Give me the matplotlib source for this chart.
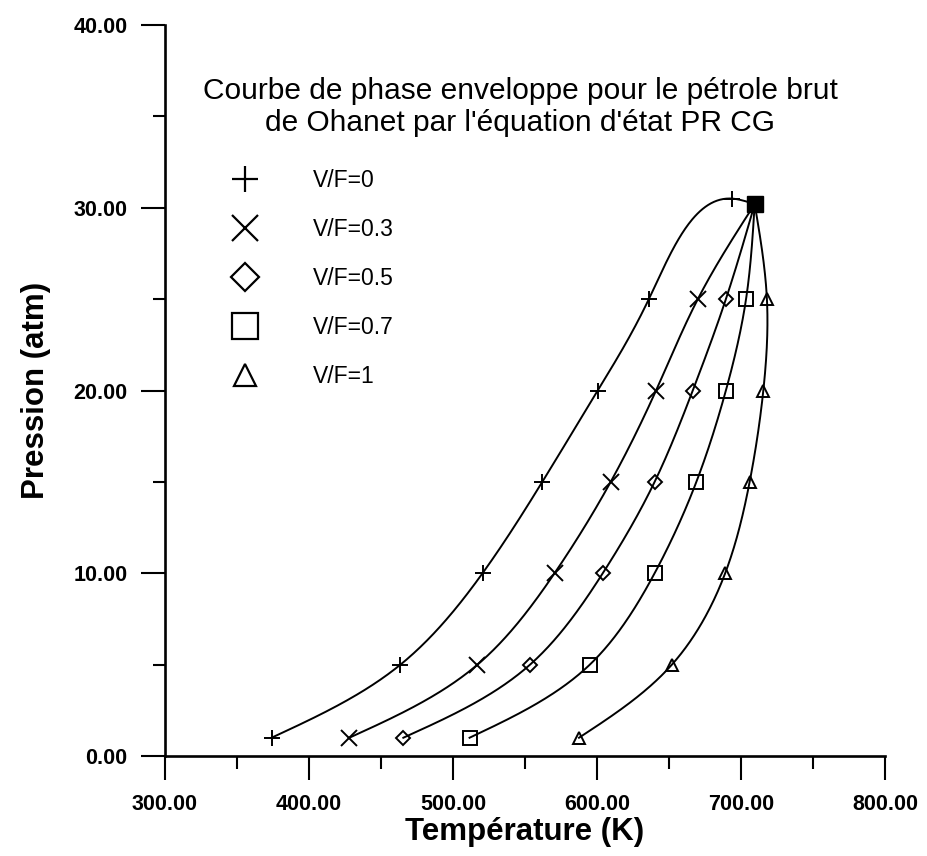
import numpy as np
import matplotlib
matplotlib.use("Agg")
import matplotlib.pyplot as plt
from matplotlib.lines import Line2D
from matplotlib.ticker import MultipleLocator, FormatStrFormatter

plt.rcParams['font.family'] = ['Liberation Sans', 'DejaVu Sans']

# pressures (atm) shared by every curve, critical point last
pressures = [1, 5, 10, 15, 20, 25]
crit_T = 709.5
crit_P = 30.2

# temperatures (K)
T_vf0 = [374, 463.5, 520.5, 562, 600.5, 636, 694]
P_vf0 = pressures + [30.5]
T_vf03 = [428, 517, 570.5, 609.5, 641, 670]
T_vf05 = [465.5, 553.5, 604, 640, 666.5, 689.5]
T_vf07 = [511.5, 595, 640, 669, 689.5, 703.5]
T_vf1 = [587.5, 652, 689, 706, 715.5, 718]

labels = ['V/F=0', 'V/F=0.3', 'V/F=0.5', 'V/F=0.7', 'V/F=1']
markers = ['+', 'x', 'D', 's', '^']
msizes = [12, 12, 7, 10, 9]


def natural_spline(t, v, tt):
    n = len(t)
    h = np.diff(t)
    A = np.zeros((n, n))
    b = np.zeros(n)
    A[0, 0] = A[-1, -1] = 1
    for i in range(1, n - 1):
        A[i, i - 1] = h[i - 1]
        A[i, i] = 2 * (h[i - 1] + h[i])
        A[i, i + 1] = h[i]
        b[i] = 6 * ((v[i + 1] - v[i]) / h[i] - (v[i] - v[i - 1]) / h[i - 1])
    M = np.linalg.solve(A, b)
    k = np.clip(np.searchsorted(t, tt) - 1, 0, n - 2)
    dt = tt - t[k]
    hk = h[k]
    a = (v[k + 1] - v[k]) / hk - hk * (2 * M[k] + M[k + 1]) / 6
    return v[k] + a * dt + M[k] / 2 * dt ** 2 + (M[k + 1] - M[k]) / (6 * hk) * dt ** 3


def smooth(x, y, n=400):
    # parametric spline on chord length, in axis-scaled units
    sx, sy = np.asarray(x) / 500., np.asarray(y) / 40.
    t = np.concatenate([[0], np.cumsum(np.hypot(np.diff(sx), np.diff(sy)))])
    tt = np.linspace(0, t[-1], n)
    return natural_spline(t, sx, tt) * 500., natural_spline(t, sy, tt) * 40.


fig = plt.figure(figsize=(9.27, 8.56), dpi=100)
ax = fig.add_axes([0.178, 0.1168, 0.7767, 0.854])

series = [
    (T_vf0, P_vf0),
    (T_vf03, pressures),
    (T_vf05, pressures),
    (T_vf07, pressures),
    (T_vf1, pressures),
]

for (T, P), m, ms in zip(series, markers, msizes):
    xs = list(T) + [crit_T]
    ys = list(P) + [crit_P]
    lx, ly = smooth(xs, ys)
    ax.plot(lx, ly, color='black', lw=1.4)
    ax.plot(T, P, ls='none', marker=m, ms=ms, mfc='none', mec='black', mew=1.4)

ax.plot([crit_T], [crit_P], ls='none', marker='s', ms=11, color='black')

ax.set_xlim(300, 800)
ax.set_ylim(0, 40)
ax.xaxis.set_major_locator(MultipleLocator(100))
ax.xaxis.set_minor_locator(MultipleLocator(50))
ax.yaxis.set_major_locator(MultipleLocator(10))
ax.yaxis.set_minor_locator(MultipleLocator(5))
ax.xaxis.set_major_formatter(FormatStrFormatter('%.2f'))
ax.yaxis.set_major_formatter(FormatStrFormatter('%.2f'))

for s in ['top', 'right']:
    ax.spines[s].set_visible(False)
for s in ['left', 'bottom']:
    ax.spines[s].set_linewidth(1.9)

ax.tick_params(which='major', direction='out', length=17, width=1.5, labelsize=15.5, pad=10)
ax.tick_params(which='minor', direction='out', length=9, width=1.5)
for lab in ax.get_xticklabels() + ax.get_yticklabels():
    lab.set_fontweight('bold')

ax.set_xlabel('Température (K)', fontsize=22.5, fontweight='bold', labelpad=2)
ax.set_ylabel('Pression (atm)', fontsize=22.5, fontweight='bold', labelpad=16)

ax.text(0.493, 0.888, "Courbe de phase enveloppe pour le pétrole brut\nde Ohanet par l'équation d'état PR CG",
        transform=ax.transAxes, ha='center', va='center', fontsize=21.5, linespacing=1.15)

handles = [Line2D([], [], ls='none', marker=m, ms=19, mfc='none', mec='black', mew=1.6)
           for m in markers]
handles[2].set_markersize(14)
handles[4].set_markersize(16)
ax.legend(handles, labels, loc='upper left', bbox_to_anchor=(0.075, 0.815), frameon=False,
          fontsize=16.5, labelspacing=1.13, handlelength=1.5, handletextpad=2.18,
          borderaxespad=0)

fig.savefig('out.png', dpi=100)
